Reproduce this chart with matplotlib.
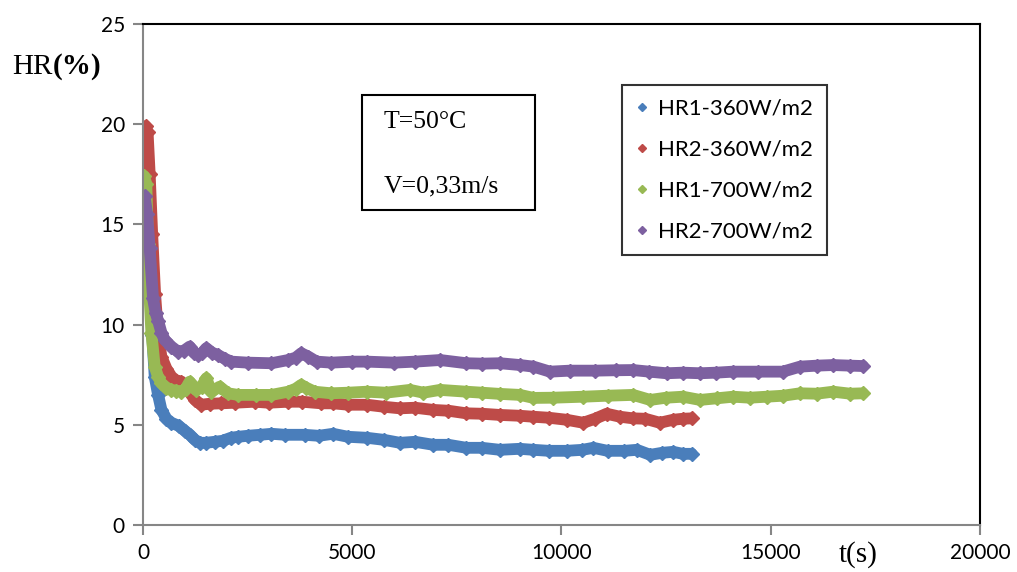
import matplotlib
matplotlib.use("Agg")
import matplotlib.pyplot as plt
from matplotlib.patches import Rectangle

# ---- data (t in s, HR in %) ----
blue_t = [0, 40, 100, 160, 220, 280, 360, 440, 560, 680, 850, 1000, 1120, 1240, 1360, 1500, 1710, 1900, 2100, 2270,
          2500, 2800, 3070, 3400, 3860, 4200, 4540, 4900, 5350, 5750, 6140, 6500, 6940, 7300, 7730, 8100, 8530, 9000,
          9330, 9700, 10120, 10500, 10760, 11100, 11500, 11800, 12120, 12400, 12670, 12900, 13110]
blue_v = [19.5, 19.3, 16.0, 12.5, 9.5, 7.4, 6.5, 5.75, 5.3, 5.1, 4.95, 4.7, 4.5, 4.25, 4.1, 4.1, 4.15, 4.2, 4.35, 4.4,
          4.45, 4.5, 4.55, 4.5, 4.5, 4.45, 4.55, 4.4, 4.35, 4.25, 4.1, 4.15, 4.0, 4.0, 3.85, 3.85, 3.75, 3.8,
          3.75, 3.7, 3.7, 3.75, 3.85, 3.7, 3.7, 3.75, 3.5, 3.6, 3.65, 3.55, 3.55]

red_t = [0, 60, 110, 160, 220, 290, 360, 440, 560, 680, 800, 920, 1050, 1240, 1390, 1600, 1870, 2200, 2670, 3000,
         3470, 3800, 4260, 4540, 4900, 5350, 5750, 6140, 6500, 6940, 7300, 7730, 8100, 8530, 9000, 9330, 9700,
         10120, 10520, 10800, 11080, 11400, 11710, 12000, 12350, 12670, 12900, 13110]
red_v = [19.6, 19.9, 19.6, 17.5, 14.5, 11.5, 9.5, 8.4, 7.8, 7.4, 7.2, 7.15, 6.8, 6.25, 6.0, 6.05, 6.07, 6.1, 6.15, 6.1,
         6.15, 6.15, 6.07, 6.07, 6.0, 6.0, 5.9, 5.82, 5.85, 5.74, 5.7, 5.57, 5.55, 5.49, 5.45, 5.4, 5.35,
         5.25, 5.1, 5.3, 5.55, 5.4, 5.32, 5.3, 5.1, 5.25, 5.3, 5.32]

green_t = [0, 30, 80, 120, 160, 200, 280, 360, 440, 560, 680, 800, 920, 1020, 1115, 1200, 1270, 1400, 1513, 1632,
           1832, 2031, 2270, 2700, 3070, 3470, 3650, 3780, 3900, 4100, 4500, 4900, 5350, 5800, 6380, 6700, 7100,
           7730, 8100, 8530, 9010, 9330, 9800, 10520, 11100, 11710, 12120, 12500, 12900, 13310, 13710, 14100,
           14500, 14900, 15300, 15700, 16100, 16490, 16900, 17200]
green_v = [17.0, 17.4, 17.0, 14.0, 11.3, 9.6, 7.9, 7.4, 7.07, 6.85, 6.74, 6.7, 6.65, 6.8, 7.15, 6.9, 6.74, 6.9, 7.32, 6.65,
           6.9, 6.57, 6.49, 6.49, 6.49, 6.65, 6.8, 6.99, 6.85, 6.65, 6.57, 6.6, 6.65, 6.6, 6.74, 6.6, 6.74,
           6.65, 6.6, 6.54, 6.49, 6.34, 6.35, 6.4, 6.45, 6.49, 6.24, 6.35, 6.4, 6.24, 6.32, 6.4,
           6.35, 6.4, 6.45, 6.57, 6.55, 6.65, 6.55, 6.57]

purple_t = [0, 40, 100, 160, 240, 300, 360, 440, 520, 680, 836, 980, 1115, 1220, 1315, 1420, 1513, 1650, 1792, 1950,
            2110, 2500, 3070, 3470, 3650, 3783, 3950, 4150, 4500, 5000, 5350, 6000, 6500, 7100, 7730, 8100, 8530,
            9010, 9330, 9725, 10200, 10800, 11300, 11710, 12100, 12510, 12900, 13310, 13700, 14100, 14700, 15290,
            15700, 16100, 16490, 16900, 17200]
purple_v = [15.9, 16.4, 15.5, 13.8, 11.3, 10.6, 10.2, 9.6, 9.23, 8.9, 8.65, 8.7, 8.9, 8.6, 8.48, 8.6, 8.82, 8.6, 8.48, 8.3,
            8.15, 8.1, 8.07, 8.23, 8.35, 8.57, 8.4, 8.15, 8.1, 8.15, 8.15, 8.1, 8.15, 8.23, 8.07, 8.05, 8.07,
            7.98, 7.9, 7.65, 7.7, 7.7, 7.72, 7.73, 7.65, 7.57, 7.6, 7.57, 7.6, 7.65, 7.65, 7.65,
            7.9, 7.95, 7.98, 7.95, 7.93]

labels = ["HR1-360W/m2", "HR2-360W/m2", "HR1-700W/m2", "HR2-700W/m2"]
colors = ["#4A7EBB", "#BE4B48", "#98B954", "#7D60A0"]
series = [(blue_t, blue_v), (red_t, red_v), (green_t, green_v), (purple_t, purple_v)]

# ---- plot ----
fig = plt.figure(figsize=(10.17, 5.72), dpi=100)
ax = fig.add_axes([0.1406, 0.0822, 0.823, 0.876])

for (t, v), c, lab in zip(series, colors, labels):
    ax.plot(t, v, color=c, lw=8.5, solid_joinstyle="round", solid_capstyle="round", zorder=2)
    ax.plot(t, v, ls="none", marker="D", ms=7, color=c, zorder=2)
    # small diamond used only for the legend
    ax.plot([], [], ls="none", marker="D", ms=4, color=c, label=lab)

ax.set_xlim(0, 20000)
ax.set_ylim(0, 25)
ax.set_xticks([0, 5000, 10000, 15000, 20000])
ax.set_yticks([0, 5, 10, 15, 20, 25])

grey = "#868686"
for s in ["left", "bottom"]:
    ax.spines[s].set_color(grey)
    ax.spines[s].set_linewidth(1.5)
for s in ["top", "right"]:
    ax.spines[s].set_color("black")
    ax.spines[s].set_linewidth(1.5)
ax.tick_params(direction="out", length=7, width=1.5, color=grey, labelsize=15, pad=6)
for lbl in ax.get_xticklabels() + ax.get_yticklabels():
    lbl.set_fontfamily("Lato")

leg = ax.legend(loc="upper left", bbox_to_anchor=(0.572, 0.878), frameon=True, fancybox=False,
                prop={"family": "Lato", "size": 16}, labelspacing=0.95, handlelength=0.6,
                handletextpad=0.45, borderpad=0.6, borderaxespad=0, markerscale=1.0)
leg.get_frame().set_edgecolor("black")
leg.get_frame().set_linewidth(1.5)

# text box with test conditions
ax.add_patch(Rectangle((0.2616, 0.629), 0.2064, 0.229, transform=ax.transAxes, fill=False,
                       edgecolor="black", lw=1.5, zorder=5))
ax.text(0.287, 0.804, "T=50°C", transform=ax.transAxes, fontsize=18.5, family="Liberation Serif", va="center")
ax.text(0.287, 0.675, "V=0,33m/s", transform=ax.transAxes, fontsize=18.5, family="Liberation Serif", va="center")

# axis titles
hr = fig.text(0.012, 0.883, "HR", fontsize=21, family="Liberation Serif", va="center")
ax.annotate("(%)", xy=(1, 0), xycoords=hr, va="bottom", fontsize=21,
            family="Liberation Serif", fontweight="bold", annotation_clip=False)
fig.text(0.825, 0.030, "t(s)", fontsize=21, family="Liberation Serif", va="center")

fig.savefig("out.png", dpi=100)
